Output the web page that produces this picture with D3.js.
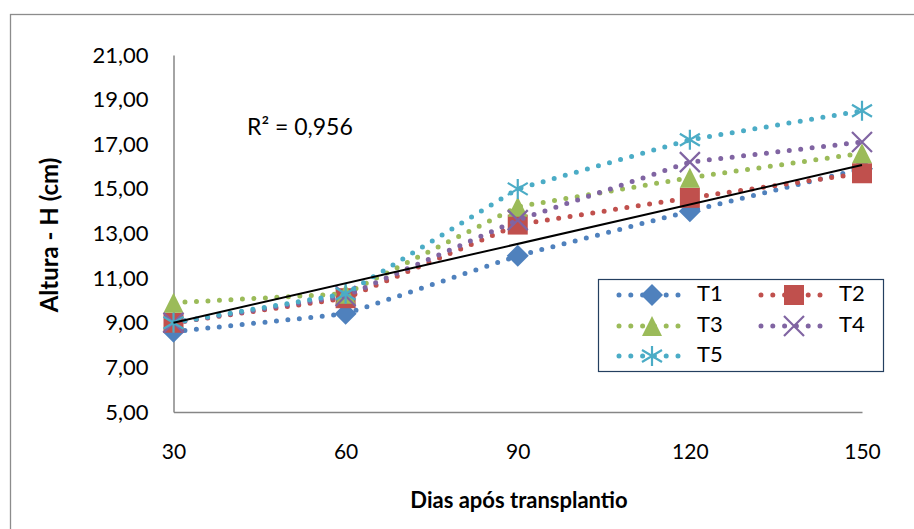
<!DOCTYPE html>
<html><head><meta charset="utf-8">
<script src="https://cdn.jsdelivr.net/npm/d3@7"></script>
<style>body{margin:0;background:#fff}svg{display:block}text{font-family:Lato,"Open Sans",sans-serif}</style>
</head><body><svg id="c" width="914" height="529"></svg>
<script>
const categories = ["30","60","90","120","150"];
const T1 = [8.6, 9.4, 12.0, 14.0, 15.9];
const T2 = [9.0, 10.1, 13.4, 14.6, 15.7];
const T3 = [9.9, 10.3, 14.2, 15.5, 16.6];
const T4 = [9.0, 10.2, 13.6, 16.2, 17.1];
const T5 = [9.0, 10.3, 15.0, 17.2, 18.5];
const seriesNames = ["T1","T2","T3","T4","T5"];
const trendEnds = [9.0, 16.07];
const yTicks = [5,7,9,11,13,15,17,19,21];
const r2Label = "R² = 0,956";

const colors = ["#4F81BD","#C0504D","#9BBB59","#8064A2","#4BACC6"];
const shapes = ["diamond","square","triangle","x","star"];
const series = [T1,T2,T3,T4,T5].map((v,i)=>({name:seriesNames[i],values:v,color:colors[i],shape:shapes[i]}));

const svg = d3.select("#c");
svg.append("rect").attr("x",10.5).attr("y",14.5).attr("width",920).attr("height",530)
  .attr("fill","#fff").attr("stroke","#8c8c8c").attr("stroke-width",1.3);

const x = d3.scalePoint().domain(categories).range([173.5, 862]);
const y = d3.scaleLinear().domain([5,21]).range([412, 55]);

// axes
const yAx = svg.append("g").attr("transform","translate(173.5,0)")
  .call(d3.axisLeft(y).tickValues(yTicks).tickSize(0).tickPadding(25)
    .tickFormat(d=>d3.format(".2f")(d).replace(".",",")));
yAx.select(".domain").attr("stroke","#868686").attr("stroke-width",1.5);
yAx.selectAll("text").attr("font-size",22).attr("fill","#000");
const xAx = svg.append("g").attr("transform","translate(0,412)")
  .call(d3.axisBottom(x).tickSize(0).tickPadding(32));
xAx.select(".domain").attr("stroke","#868686").attr("stroke-width",1.5);
xAx.selectAll("text").attr("font-size",21).attr("fill","#000");

svg.append("text").attr("transform","translate(52,235) rotate(-90)")
  .attr("text-anchor","middle").attr("dominant-baseline","middle")
  .attr("font-size",24).attr("font-weight","bold").text("Altura - H (cm)");
svg.append("text").attr("x",519).attr("y",502).attr("text-anchor","middle")
  .attr("dominant-baseline","middle").attr("font-size",22).attr("font-weight","bold")
  .text("Dias após transplantio");

function marker(g, shape, color, cx, cy){
  const s = 10;
  if(shape==="diamond"){
    const d = 11;
    g.append("path").attr("d",`M${cx},${cy-d}L${cx+d},${cy}L${cx},${cy+d}L${cx-d},${cy}Z`).attr("fill",color);
  } else if(shape==="square"){
    g.append("rect").attr("x",cx-s).attr("y",cy-s).attr("width",2*s).attr("height",2*s).attr("fill",color);
  } else if(shape==="triangle"){
    g.append("path").attr("d",`M${cx},${cy-s}L${cx+s},${cy+s}L${cx-s},${cy+s}Z`).attr("fill",color);
  } else if(shape==="x"){
    g.append("path").attr("d",`M${cx-s},${cy-s}L${cx+s},${cy+s}M${cx+s},${cy-s}L${cx-s},${cy+s}`)
      .attr("stroke",color).attr("stroke-width",2.2);
  } else {
    g.append("path").attr("d",`M${cx},${cy-s}L${cx},${cy+s}M${cx-s},${cy-s*0.6}L${cx+s},${cy+s*0.6}M${cx+s},${cy-s*0.6}L${cx-s},${cy+s*0.6}`)
      .attr("stroke",color).attr("stroke-width",2.2);
  }
}

const line = d3.line().x((d,i)=>x(categories[i])).y(d=>y(d)).curve(d3.curveLinear);
const plot = svg.append("g");
series.forEach(s=>{
  plot.append("path").datum(s.values).attr("d",line).attr("fill","none")
    .attr("stroke",s.color).attr("stroke-width",5).attr("stroke-linecap","round")
    .attr("stroke-dasharray","0 11.5");
  s.values.forEach((v,i)=>marker(plot, s.shape, s.color, x(categories[i]), y(v)));
});
// trendline
svg.append("line").attr("x1",x(categories[0])).attr("y1",y(trendEnds[0]))
  .attr("x2",x(categories[categories.length-1])).attr("y2",y(trendEnds[1]))
  .attr("stroke","#000").attr("stroke-width",2);
svg.append("text").attr("x",247).attr("y",129).attr("dominant-baseline","middle")
  .attr("font-size",23).text(r2Label);

// legend
const lg = svg.append("g");
lg.append("rect").attr("x",598.5).attr("y",279.5).attr("width",285).attr("height",92)
  .attr("fill","#fff").attr("stroke","#243F60").attr("stroke-width",1.2);
const pos = [[619,295],[761,295],[619,326],[761,326],[619,356]];
series.forEach((s,i)=>{
  const [lx,ly]=pos[i];
  lg.append("line").attr("x1",lx).attr("x2",lx+62).attr("y1",ly).attr("y2",ly)
    .attr("stroke",s.color).attr("stroke-width",5).attr("stroke-linecap","round")
    .attr("stroke-dasharray","0 11.8");
  marker(lg, s.shape, s.color, lx+33, ly);
  lg.append("text").attr("x",lx+78).attr("y",ly).attr("dominant-baseline","middle")
    .attr("font-size",22).text(s.name);
});
</script></body></html>
